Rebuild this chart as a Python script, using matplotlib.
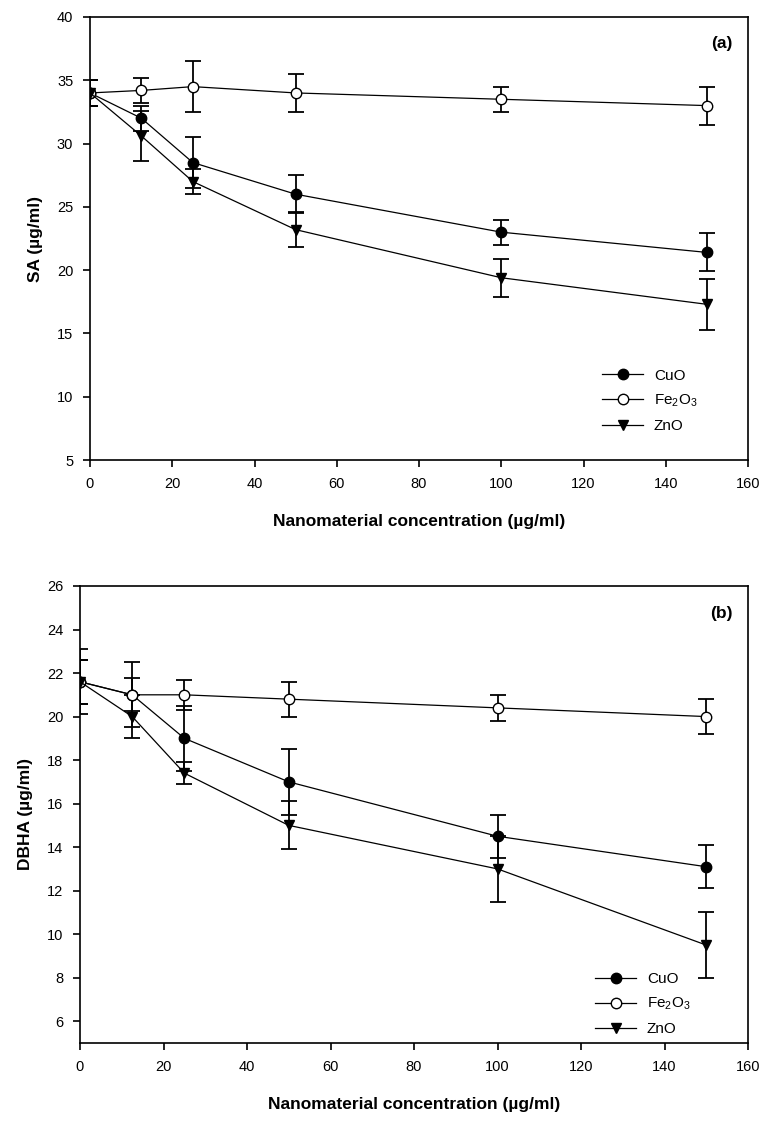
import matplotlib
matplotlib.use("Agg")
import matplotlib.pyplot as plt

plt.rcParams['font.family'] = ['Liberation Sans', 'DejaVu Sans']
plt.rcParams['mathtext.default'] = 'regular'

conc = [0, 12.5, 25, 50, 100, 150]

# Panel (a): SA
sa_cuo = [34.0, 32.0, 28.5, 26.0, 23.0, 21.4]
sa_cuo_err = [1.0, 1.0, 2.0, 1.5, 1.0, 1.5]
sa_fe = [34.0, 34.2, 34.5, 34.0, 33.5, 33.0]
sa_fe_err = [1.0, 1.0, 2.0, 1.5, 1.0, 1.5]
sa_zno = [34.0, 30.6, 27.0, 23.2, 19.4, 17.3]
sa_zno_err = [1.0, 2.0, 1.0, 1.4, 1.5, 2.0]

# Panel (b): DBHA
db_cuo = [21.6, 21.0, 19.0, 17.0, 14.5, 13.1]
db_cuo_err = [1.5, 1.5, 1.5, 1.5, 1.0, 1.0]
db_fe = [21.6, 21.0, 21.0, 20.8, 20.4, 20.0]
db_fe_err = [1.0, 0.75, 0.7, 0.8, 0.6, 0.8]
db_zno = [21.6, 20.0, 17.4, 15.0, 13.0, 9.5]
db_zno_err = [1.0, 1.0, 0.5, 1.1, 1.5, 1.5]

labels = ['CuO', 'Fe$_2$O$_3$', 'ZnO']
xticks = [0, 20, 40, 60, 80, 100, 120, 140, 160]

W, H = 762, 1123
fig = plt.figure(figsize=(W / 100, H / 100), dpi=100)

def px_axes(l, t, r, b):
    return fig.add_axes([l / W, 1 - b / H, (r - l) / W, (b - t) / H])

ax1 = px_axes(90, 17, 748, 460)
ax2 = px_axes(80, 586, 748, 1043)

def draw(ax, series, ylim, yticks, ylabel, tag, leg_anchor):
    styles = [dict(marker='o', mfc='black'),
              dict(marker='o', mfc='white'),
              dict(marker='v', mfc='black')]
    handles = []
    for (y, e), st, lab in zip(series, styles, labels):
        ax.errorbar(conc, y, yerr=e, fmt='none', ecolor='black',
                    elinewidth=1.3, capsize=6, capthick=1.3, zorder=2)
        h, = ax.plot(conc, y, color='black', lw=0.9, marker=st['marker'],
                     mfc=st['mfc'], mec='black', mew=1.0, ms=7.5, zorder=3,
                     label=lab)
        handles.append(h)
    ax.set_xlim(0, 160)
    ax.set_ylim(*ylim)
    ax.set_xticks(xticks)
    ax.set_yticks(yticks)
    ax.tick_params(direction='out', length=5, width=1.2, labelsize=10.5,
                   pad=7)
    for s in ax.spines.values():
        s.set_linewidth(1.2)
    ax.set_xlabel('Nanomaterial concentration (µg/ml)', fontsize=12.5,
                  fontweight='bold', labelpad=17)
    ax.set_ylabel(ylabel, fontsize=12.5, fontweight='bold', labelpad=10)
    ax.text(0.977, 0.94, tag, transform=ax.transAxes, ha='right',
            va='center', fontsize=12.5, fontweight='bold')
    ax.legend(handles=handles, loc='upper left',
              bbox_to_anchor=leg_anchor, frameon=False, fontsize=11,
              handlelength=2.7, handletextpad=0.7, labelspacing=0.65,
              borderpad=0, borderaxespad=0, markerscale=1.0)

draw(ax1, [(sa_cuo, sa_cuo_err), (sa_fe, sa_fe_err), (sa_zno, sa_zno_err)],
     (5, 40), list(range(5, 41, 5)), 'SA (µg/ml)', '(a)', (0.778, 0.206))
draw(ax2, [(db_cuo, db_cuo_err), (db_fe, db_fe_err), (db_zno, db_zno_err)],
     (5, 26), list(range(6, 27, 2)), 'DBHA (µg/ml)', '(b)', (0.771, 0.155))

fig.savefig('out.png', dpi=100)
